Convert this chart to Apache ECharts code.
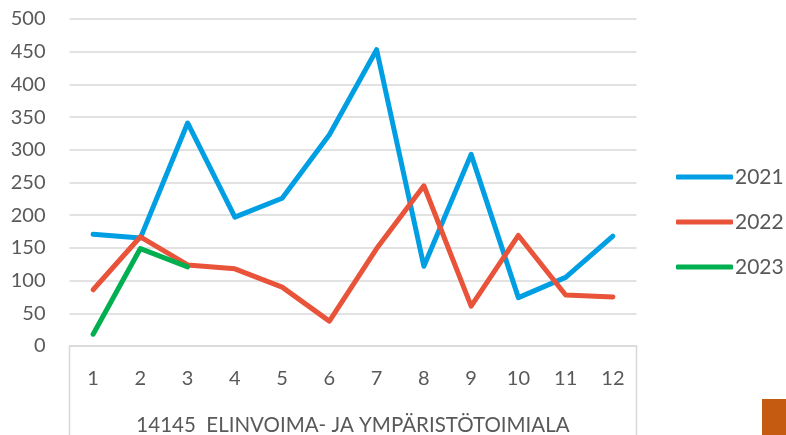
<!DOCTYPE html>
<html>
<head>
<meta charset="utf-8">
<script src="https://cdn.jsdelivr.net/npm/echarts@6/dist/echarts.min.js"></script>
<style>
html,body{margin:0;padding:0;background:#fff;}
#c{width:786px;height:435px;}
</style>
</head>
<body>
<div id="c"></div>
<script>
const months = ['1','2','3','4','5','6','7','8','9','10','11','12'];
const groupTitle = '14145  ELINVOIMA- JA YMPÄRISTÖTOIMIALA';
const seriesNames = ['2021','2022','2023'];
const v2021 = [171,165,341,197,226,323,453,122,293,74,105,168];
const v2022 = [86,167,124,118,90,38,149,245,61,169,78,75];
const v2023 = [18,149,121];
const colors = ['#009fe3','#e8533a','#00b050'];

const chart = echarts.init(document.getElementById('c'), null, {renderer:'canvas'});
const font = 'Lato, "Open Sans", sans-serif';
const gridLeft = 69.5, gridRight = 149.5, gridTop = 19, gridBottom = 89;
const W = 786, H = 435;
const data = [v2021, v2022, v2023];
chart.setOption({
  animation:false,
  color: colors,
  textStyle:{fontFamily:font},
  grid:{left:gridLeft, right:gridRight, top:gridTop, bottom:gridBottom, containLabel:false, outerBoundsMode:'none'},
  legend:{
    orient:'vertical', left:671, top:160, padding:5,
    itemWidth:57, itemHeight:5, itemGap:21,
    icon:'roundRect',
    textStyle:{fontSize:21, color:'#595959', fontFamily:font, padding:[0,0,0,-3], lineHeight:24},
    data: seriesNames
  },
  xAxis:{
    type:'category', data: months, boundaryGap:true,
    axisLine:{show:true, lineStyle:{color:'#d9d9d9', width:1.5}},
    axisTick:{show:false},
    axisLabel:{fontSize:20, color:'#595959', margin:23, fontFamily:font},
    name: groupTitle, nameLocation:'middle', nameGap:69,
    nameTextStyle:{fontSize:20.5, color:'#595959', fontFamily:font}
  },
  yAxis:{
    type:'value', min:0, max:500, interval:50,
    axisLine:{show:false}, axisTick:{show:false},
    axisLabel:{fontSize:20, color:'#595959', margin:24, fontFamily:font},
    splitLine:{lineStyle:{color:'#d9d9d9', width:1.5}}
  },
  series: seriesNames.map((n,i)=>({
    name:n, type:'line', data:data[i], symbol:'none', showSymbol:false,
    lineStyle:{width:5, color:colors[i], cap:'round', join:'round'},
    itemStyle:{color:colors[i]}
  })),
  graphic:[
    {type:'line', shape:{x1:gridLeft, y1:H-gridBottom, x2:gridLeft, y2:H}, style:{stroke:'#d9d9d9', lineWidth:1.5}},
    {type:'line', shape:{x1:W-gridRight, y1:H-gridBottom, x2:W-gridRight, y2:H}, style:{stroke:'#d9d9d9', lineWidth:1.5}},
    {type:'rect', shape:{x:762, y:399, width:24, height:36}, style:{fill:'#c55a11'}}
  ]
});
</script>
</body>
</html>
